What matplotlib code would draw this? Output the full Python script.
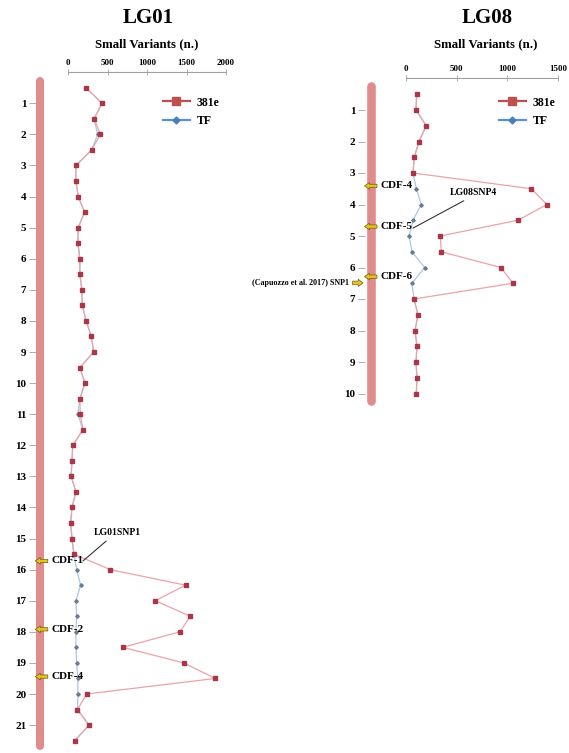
import matplotlib
matplotlib.use('Agg')
import matplotlib.pyplot as plt
from matplotlib.lines import Line2D

plt.rcParams['font.family'] = ['Liberation Serif', 'DejaVu Serif']
plt.rcParams['font.weight'] = 'bold'

# ---- data ----
pos_lg01 = [0.5, 1.0, 1.5, 2.0, 2.5, 3.0, 3.5, 4.0, 4.5, 5.0, 5.5, 6.0, 6.5, 7.0, 7.5,
            8.0, 8.5, 9.0, 9.5, 10.0, 10.5, 11.0, 11.5, 12.0, 12.5, 13.0, 13.5, 14.0,
            14.5, 15.0, 15.5, 16.0, 16.5, 17.0, 17.5, 18.0, 18.5, 19.0, 19.5, 20.0,
            20.5, 21.0, 21.5]
e381_lg01 = [230, 430, 330, 410, 300, 100, 100, 130, 210, 130, 125, 150, 150, 175, 180,
             230, 295, 325, 150, 215, 150, 155, 190, 60, 50, 40, 100, 50,
             35, 50, 75, 535, 1490, 1105, 1550, 1415, 695, 1465, 1865, 235,
             120, 265, 85]
tf_lg01 = [230, 430, 330, 375, 300, 100, 100, 130, 210, 130, 125, 150, 150, 175, 180,
           230, 295, 325, 150, 215, 150, 125, 190, 60, 50, 40, 100, 50,
           35, 50, 75, 110, 160, 100, 110, 100, 100, 110, 125, 125,
           120, 265, 85]

pos_lg08 = [0.5, 1.0, 1.5, 2.0, 2.5, 3.0, 3.5, 4.0, 4.5, 5.0, 5.5, 6.0, 6.5, 7.0, 7.5,
            8.0, 8.5, 9.0, 9.5, 10.0]
e381_lg08 = [105, 99, 200, 128, 82, 69, 1237, 1391, 1105, 339, 348, 937, 1056, 79, 118,
             89, 108, 99, 108, 102]
tf_lg08 = [105, 99, 200, 128, 82, 69, 102, 151, 69, 30, 59, 184, 59, 79, 118,
           89, 108, 99, 108, 102]

cdf_lg01 = ['CDF-1', 'CDF-2', 'CDF-4']
cdf_lg01_pos = [15.72, 17.92, 19.44]
cdf_lg08 = ['CDF-4', 'CDF-5', 'CDF-6']
cdf_lg08_pos = [3.41, 4.70, 6.29]

W, H = 569, 753
fig = plt.figure(figsize=(W / 100, H / 100), dpi=100)

red_line = '#eba3a8'
red_mk = '#a83848'
blue_line = '#a9c7e6'
blue_mk = '#6a7b95'
chrom_col = '#e08c8c'
arrow_fc = '#e6c21e'
arrow_ec = '#6d5f12'


def make_ax(left_px, right_px, top_px, bottom_px, x0_px, scale_x, y0_px, scale_y):
    ax = fig.add_axes([left_px / W, 1 - bottom_px / H,
                       (right_px - left_px) / W, (bottom_px - top_px) / H])
    ax.set_xlim((left_px - x0_px) / scale_x, (right_px - x0_px) / scale_x)
    ax.set_ylim((bottom_px - y0_px) / scale_y, (top_px - y0_px) / scale_y)
    return ax


def style(ax, xmax, ymax, spine_x):
    for s in ['right', 'bottom']:
        ax.spines[s].set_visible(False)
    ax.spines['top'].set_bounds(0, xmax)
    ax.spines['top'].set_color('#a0a0a0')
    ax.spines['top'].set_linewidth(0.8)
    ax.spines['left'].set_position(('data', spine_x))
    ax.spines['left'].set_color('none')
    ax.xaxis.tick_top()
    ax.set_xticks(range(0, xmax + 1, 500))
    ax.tick_params(axis='x', direction='inout', length=4, width=0.6, color='#a0a0a0',
                   labelsize=6.5, pad=2)
    ax.set_yticks(range(1, ymax + 1))
    ax.tick_params(axis='y', direction='out', length=5, width=0.6, color='#a0a0a0',
                   labelsize=8, pad=2)
    for lab in ax.get_xticklabels() + ax.get_yticklabels():
        lab.set_fontweight('bold')
    ax.patch.set_visible(False)


def series(ax, pos, e381, tf):
    ax.plot(tf, pos, color=blue_line, lw=0.9, marker='D', ms=1.8, mfc=blue_mk,
            mec=blue_mk, zorder=3)
    ax.plot(e381, pos, color=red_line, lw=0.9, marker='s', ms=2.2, mfc=red_mk,
            mec=red_mk, zorder=4)


def cdf(ax, labels, ys, bar_x):
    for lab, y in zip(labels, ys):
        ax.annotate(lab, xy=(bar_x - 60, y), xytext=(11.5, 0), textcoords='offset points',
                    ha='left', va='center', fontsize=8, fontweight='bold',
                    arrowprops=dict(arrowstyle='simple,head_length=0.45,head_width=0.6,tail_width=0.3',
                                    fc=arrow_fc, ec=arrow_ec, lw=0.5, shrinkA=0.5, shrinkB=0),
                    zorder=6)


def legend(ax, x_px, y_px):
    h = [Line2D([], [], color='#c0504d', lw=1.6, marker='s', ms=6, mfc='#c0504d', mec='#c0504d'),
         Line2D([], [], color='#5b8fd0', lw=1.6, marker='D', ms=3.5, mfc='#4a7ebb', mec='#4a7ebb')]
    ax.legend(h, ['381e', 'TF'], loc='upper left', bbox_to_anchor=(x_px / W, 1 - y_px / H),
              bbox_transform=fig.transFigure, frameon=False, handlelength=2.3,
              prop={'weight': 'bold', 'size': 8.5}, labelspacing=0.55, handletextpad=0.6)


# ---- LG01 ----
ax1 = make_ax(0, 285, 72.2, 753, 68, 0.079, 72.2, 31.09)
style(ax1, 2000, 21, -405)
bar1 = -354
ax1.plot([bar1, bar1], [0.29, 21.67], color=chrom_col, lw=5.8, solid_capstyle='round', zorder=2)
series(ax1, pos_lg01, e381_lg01, tf_lg01)
cdf(ax1, cdf_lg01, cdf_lg01_pos, bar1)
ax1.annotate('LG01SNP1', xy=(190, 15.72), xytext=(620, 14.82), ha='center', va='center',
             fontsize=7, fontweight='bold',
             arrowprops=dict(arrowstyle='-', color='#333333', lw=0.8, relpos=(0.36, 0),
                             shrinkA=1, shrinkB=0), zorder=7)
legend(ax1, 152, 86)
fig.text(148 / W, 1 - 18 / H, 'LG01', ha='center', va='center', fontsize=15, fontweight='bold')
fig.text(147 / W, 1 - 44 / H, 'Small Variants (n.)', ha='center', va='center', fontsize=9.3,
         fontweight='bold')

# ---- LG08 ----
ax2 = make_ax(300, 569, 78.5, 420, 406, 0.1013, 78.5, 31.5)
style(ax2, 1500, 10, -405)
bar2 = -350
ax2.plot([bar2, bar2], [0.24, 10.24], color=chrom_col, lw=6.2, solid_capstyle='round', zorder=2)
series(ax2, pos_lg08, e381_lg08, tf_lg08)
cdf(ax2, cdf_lg08, cdf_lg08_pos, bar2)
ax2.annotate('LG08SNP4', xy=(69, 4.75), xytext=(661, 3.63), ha='center', va='center',
             fontsize=7, fontweight='bold',
             arrowprops=dict(arrowstyle='-', color='#333333', lw=0.8, relpos=(0.44, 0),
                             shrinkA=1, shrinkB=0), zorder=7)
ax2.annotate('(Capuozzo et al. 2017) SNP1', xy=(-424, 6.49), xytext=(-10, 0),
             textcoords='offset points', ha='right', va='center', fontsize=5.8,
             fontweight='bold',
             arrowprops=dict(arrowstyle='simple,head_length=0.6,head_width=0.9,tail_width=0.45',
                             fc=arrow_fc, ec=arrow_ec, lw=0.5, shrinkA=0.5, shrinkB=0),
             zorder=6)
legend(ax2, 488, 86)
fig.text(487 / W, 1 - 18 / H, 'LG08', ha='center', va='center', fontsize=15, fontweight='bold')
fig.text(486 / W, 1 - 44 / H, 'Small Variants (n.)', ha='center', va='center', fontsize=9.3,
         fontweight='bold')

fig.savefig('out.png', dpi=100)
